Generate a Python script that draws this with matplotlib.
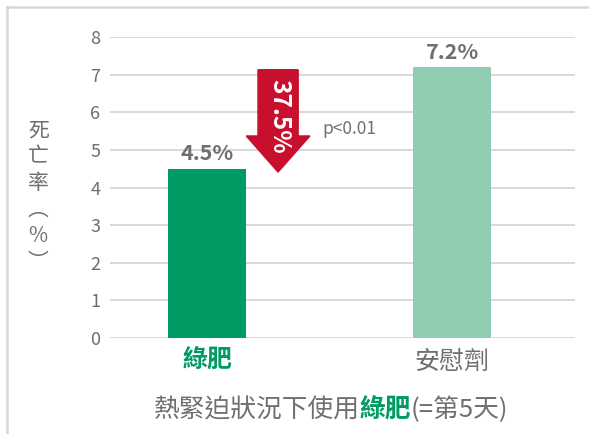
import numpy as np
import matplotlib
matplotlib.use('Agg')
import matplotlib.pyplot as plt
from matplotlib.patches import Polygon
from matplotlib.lines import Line2D

plt.rcParams['font.family'] = ['Noto Sans CJK TC', 'DejaVu Sans']

# data
categories = ['綠肥', '安慰劑']
mortality = [4.5, 7.2]
value_labels = ['4.5%', '7.2%']
reduction_label = '37.5%'
p_label = 'p<0.01'
y_ticks = [0, 1, 2, 3, 4, 5, 6, 7, 8]

green = '#009a63'
light_green = '#91cdb1'
red = '#c8102e'
gray = '#6f6f6f'

fig = plt.figure(figsize=(5.89, 4.34), dpi=100)
ax = fig.add_axes([0.1868, 0.2212, 0.7894, 0.6935])

x = np.arange(len(categories))
ax.bar(x, mortality, width=0.318, color=[green, light_green], zorder=3)

ax.set_ylim(0, 8)
ax.set_xlim(-0.396, 1.502)
ax.set_yticks(y_ticks)
ax.yaxis.grid(True, color='#d6d6d6', linewidth=1.3, zorder=0)
ax.tick_params(axis='y', length=0, pad=7, labelsize=13, labelcolor=gray)
ax.tick_params(axis='x', length=0, pad=8, labelsize=18)
for s in ax.spines.values():
    s.set_visible(False)

ax.set_xticks(x)
ax.set_xticklabels(categories)
tl = ax.get_xticklabels()
tl[0].set_color(green)
tl[0].set_fontweight('bold')
tl[1].set_color(gray)

# bar value labels
for xi, v, lab in zip(x, mortality, value_labels):
    ax.text(xi, v + 0.12, lab, ha='center', va='bottom', fontsize=15.5,
            fontweight='bold', color=gray)

# reduction arrow from placebo level to green manure level
ax_c = 0.29
top, tip = mortality[1] - 0.07, mortality[0] - 0.09
head_start = tip + 0.96
sw, hw = 0.082, 0.13
arrow = Polygon([(ax_c - sw, top), (ax_c + sw, top), (ax_c + sw, head_start),
                 (ax_c + hw, head_start), (ax_c, tip), (ax_c - hw, head_start),
                 (ax_c - sw, head_start)], closed=True, color=red, zorder=4)
ax.add_patch(arrow)
ax.text(ax_c + 0.005, (top + tip) / 2 + 0.12, reduction_label, rotation=-90,
        ha='center', va='center', fontsize=17.5, fontweight='bold',
        color='white', zorder=5)

ax.text(0.58, 5.55, p_label, ha='center', va='center', fontsize=12.5, color=gray)

# vertical y label
fig.text(0.065, 0.548, '死\n亡\n率\n︵\n%\n︶', ha='center', va='center',
         fontsize=15, color=gray, linespacing=1.25)

# bottom title with highlighted part
parts = [('熱緊迫狀況下使用', gray, 'normal'), ('綠肥', green, 'bold'),
         ('(=第5天)', gray, 'normal')]
fig.canvas.draw()
renderer = fig.canvas.get_renderer()
texts = []
for s, c, w in parts:
    t = fig.text(0, 0.055, s, ha='left', va='center', fontsize=18.5,
                 color=c, fontweight=w)
    texts.append(t)
widths = [t.get_window_extent(renderer).width for t in texts]
start = 331 - sum(widths) / 2
for t, w in zip(texts, widths):
    t.set_x(start / fig.bbox.width)
    start += w

# frame lines
fig.add_artist(Line2D([0.012, 0.012], [0, 0.984], transform=fig.transFigure,
                      color='#d8d8d8', linewidth=1.8))
fig.add_artist(Line2D([0.012, 1.0], [0.984, 0.984], transform=fig.transFigure,
                      color='#d8d8d8', linewidth=1.8))

fig.savefig('out.png', dpi=100)
